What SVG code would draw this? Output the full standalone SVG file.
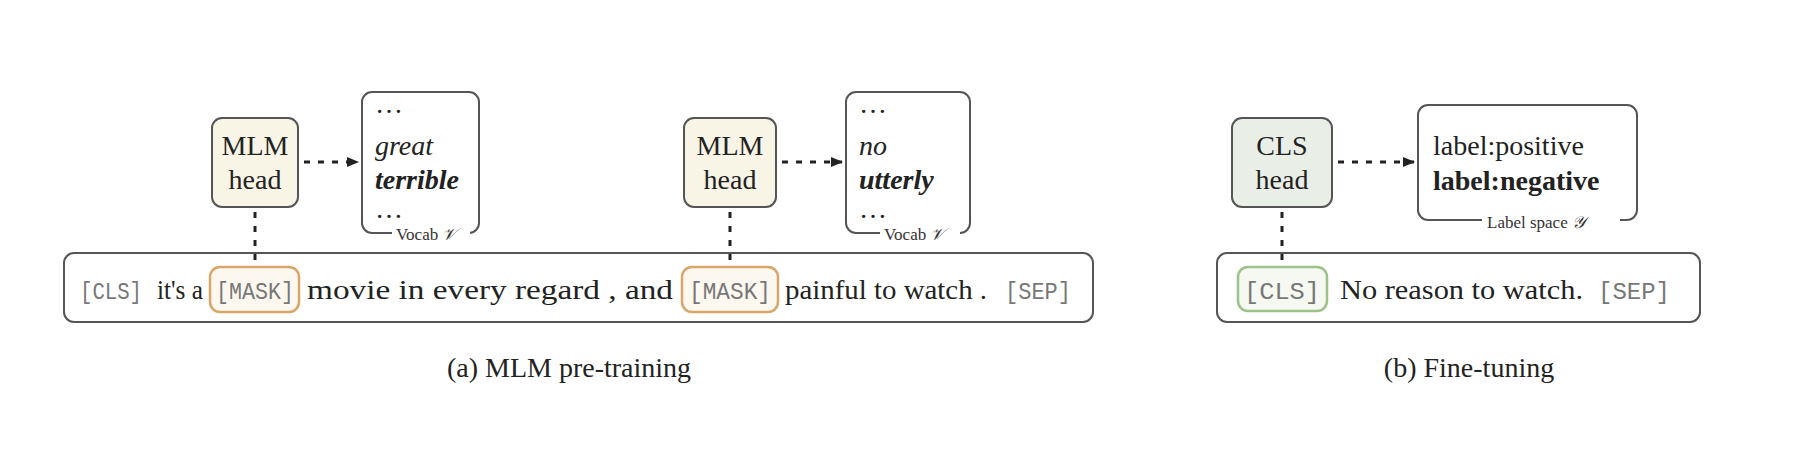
<svg xmlns="http://www.w3.org/2000/svg" width="1798" height="450" viewBox="0 0 1798 450">
<defs>
<marker id="ah" markerWidth="12" markerHeight="10" refX="11" refY="5" orient="auto" markerUnits="userSpaceOnUse"><path d="M0,0 L12,5 L0,10 z" fill="#222"/></marker>
<style>
.box{fill:#fff;stroke:#555;stroke-width:2}
.mlm{fill:#f8f5e7;stroke:#555;stroke-width:2}
.cls{fill:#e9efe6;stroke:#555;stroke-width:2}
.mask{fill:#fdf8ef;stroke:#d9a66a;stroke-width:2.5}
.clsb{fill:#f5f9f1;stroke:#9cc28a;stroke-width:2.5}
.s{font-family:"Liberation Serif",serif;font-size:28px;fill:#222}
.m{font-family:"Liberation Mono",monospace;font-size:23px;fill:#777}
.c{text-anchor:middle}
.sm{font-family:"Liberation Serif",serif;font-size:17px;fill:#333}
.dl{stroke:#222;stroke-width:3;stroke-dasharray:6 8;fill:none}
</style>
</defs>
<rect width="1798" height="450" fill="#fff"/>
<g id="sentence-a">
<rect class="box" x="64" y="253" width="1029" height="69" rx="10"/>
<text class="m" x="80" y="299" textLength="62" lengthAdjust="spacingAndGlyphs">[CLS]</text>
<text class="s" x="157" y="299" textLength="46" lengthAdjust="spacingAndGlyphs">it's a</text>
<rect class="mask" x="210" y="267" width="89" height="45" rx="10"/>
<text class="m" x="216" y="299" textLength="78" lengthAdjust="spacingAndGlyphs">[MASK]</text>
<text class="s" x="307" y="299" textLength="366" lengthAdjust="spacingAndGlyphs">movie in every regard , and</text>
<rect class="mask" x="682" y="267" width="96" height="45" rx="10"/>
<text class="m" x="689" y="299" textLength="82" lengthAdjust="spacingAndGlyphs">[MASK]</text>
<text class="s" x="785" y="299" textLength="202" lengthAdjust="spacingAndGlyphs">painful to watch .</text>
<text class="m" x="1005" y="299" textLength="66" lengthAdjust="spacingAndGlyphs">[SEP]</text>
</g>
<g id="mlm-head-1">
<rect class="mlm" x="212" y="118" width="86" height="89" rx="10"/>
<text class="s c" x="255" y="155">MLM</text>
<text class="s c" x="255" y="189">head</text>
</g>
<g id="vocab-1">
<rect class="box" x="362" y="92" width="117" height="141" rx="10"/>
<text class="s" x="375" y="113">…</text>
<text class="s" x="375" y="155" font-style="italic">great</text>
<text class="s" x="375" y="189" font-style="italic" font-weight="bold">terrible</text>
<text class="s" x="375" y="218">…</text>
<rect x="392" y="224" width="78" height="18" fill="#fff"/>
<text class="sm" x="396" y="240">Vocab <tspan font-style="italic">𝒱</tspan></text>
</g>
<g id="mlm-head-2">
<rect class="mlm" x="684" y="118" width="92" height="89" rx="10"/>
<text class="s c" x="730" y="155">MLM</text>
<text class="s c" x="730" y="189">head</text>
</g>
<g id="vocab-2">
<rect class="box" x="846" y="92" width="124" height="141" rx="10"/>
<text class="s" x="859" y="113">…</text>
<text class="s" x="859" y="155" font-style="italic">no</text>
<text class="s" x="859" y="189" font-style="italic" font-weight="bold">utterly</text>
<text class="s" x="859" y="218">…</text>
<rect x="880" y="224" width="80" height="18" fill="#fff"/>
<text class="sm" x="884" y="240">Vocab <tspan font-style="italic">𝒱</tspan></text>
</g>
<g id="sentence-b">
<rect class="box" x="1217" y="253" width="483" height="69" rx="10"/>
<rect class="clsb" x="1238" y="267" width="89" height="44" rx="10"/>
<text class="m" x="1244" y="299" textLength="76" lengthAdjust="spacingAndGlyphs">[CLS]</text>
<text class="s" x="1340" y="299" textLength="243" lengthAdjust="spacingAndGlyphs">No reason to watch.</text>
<text class="m" x="1598" y="299" textLength="72" lengthAdjust="spacingAndGlyphs">[SEP]</text>
</g>
<g id="cls-head">
<rect class="cls" x="1232" y="118" width="100" height="89" rx="10"/>
<text class="s c" x="1282" y="155">CLS</text>
<text class="s c" x="1282" y="189">head</text>
</g>
<g id="label-space">
<rect class="box" x="1418" y="105" width="219" height="115" rx="10"/>
<text class="s" x="1433" y="155">label:positive</text>
<text class="s" x="1433" y="190" font-weight="bold">label:negative</text>
<rect x="1482" y="211" width="138" height="20" fill="#fff"/>
<text class="sm" x="1487" y="228">Label space <tspan font-style="italic">𝒴</tspan></text>
</g>
<g id="connectors">
<line class="dl" x1="304" y1="162" x2="358" y2="162" marker-end="url(#ah)"/>
<line class="dl" x1="782" y1="162" x2="842" y2="162" marker-end="url(#ah)"/>
<line class="dl" x1="1338" y1="162" x2="1414" y2="162" marker-end="url(#ah)"/>
<line class="dl" x1="255" y1="212" x2="255" y2="266"/>
<line class="dl" x1="730" y1="212" x2="730" y2="266"/>
<line class="dl" x1="1282" y1="212" x2="1282" y2="266"/>
</g>
<g id="captions">
<text class="s c" x="569" y="377">(a) MLM pre-training</text>
<text class="s c" x="1469" y="377">(b) Fine-tuning</text>
</g>
</svg>
